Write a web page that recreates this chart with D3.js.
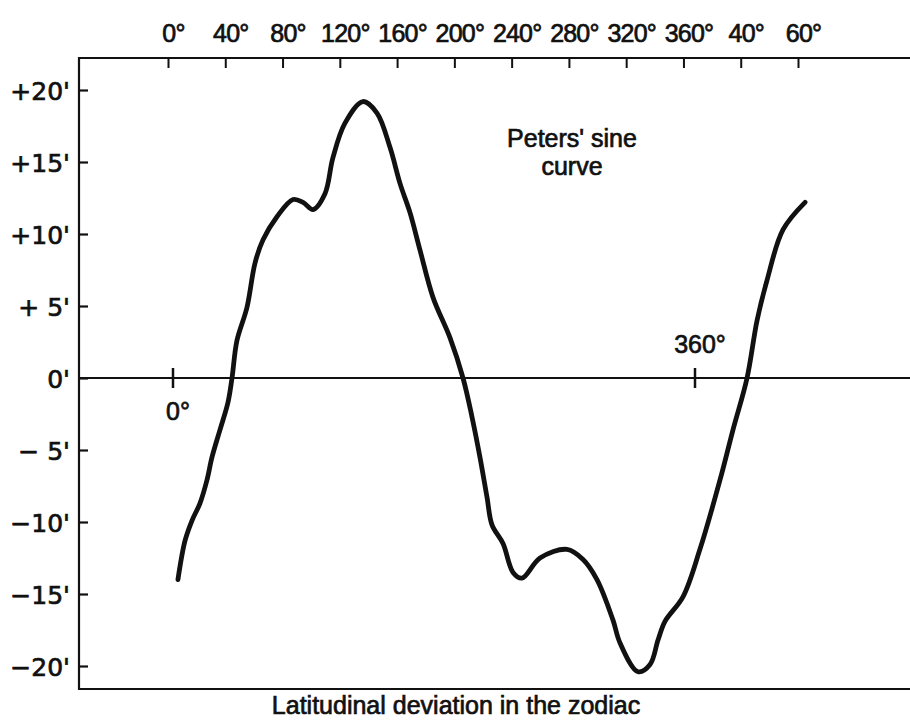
<!DOCTYPE html>
<html>
<head>
<meta charset="utf-8">
<script src="https://cdn.jsdelivr.net/npm/d3@7"></script>
<style>
  body { margin: 0; background: #fff; }
  text { font-family: "Liberation Sans", Arial, sans-serif; fill: #111; stroke: #111; stroke-width: 0.7px; }
</style>
</head>
<body>
<div id="chart"></div>
<script>
// top scale, as printed (the last two are labelled 40 and 60 in the original)
var topTickValues = [0, 40, 80, 120, 160, 200, 240, 280, 320, 360, 400, 440];
var topTickLabels = ["0", "40", "80", "120", "160", "200", "240", "280", "320", "360", "40", "60"];

// left scale, minutes of arc
var yTickValues = [20, 15, 10, 5, 0, -5, -10, -15, -20];
var yTickLabels = ["+20'", "+15'", "+10'", "+ 5'", "0'", "\u2212 5'", "\u221210'", "\u221215'", "\u221220'"];

// marks on the zero line
var zeroTickValues = [0, 360];
var zeroTickLabels = ["0", "360"];

// Peters' curve (degrees of longitude, minutes)
var longitude = [3.4, 8.3, 13.1, 18.6, 23.4, 26.9, 32.4, 37.9, 40.7, 44.1, 51.0, 56.6, 62.1, 71.7,
  82.8, 89.7, 96.6, 104.8, 110.3, 118.6, 131.0, 140.7, 149.7, 156.6, 163.4, 170.3, 179.3, 191.0,
  200.0, 206.2, 211.7, 216.6, 220.0, 227.6, 234.5, 240.7, 253.1, 271.7, 282.8, 292.4, 303.4, 308.3,
  320.7, 329.0, 334.5, 339.3, 351.7, 363.4, 377.2, 386.2, 395.9, 402.8, 409.7, 420.7, 435.9];
var deviation = [-14.0, -11.3, -9.9, -8.7, -7.1, -5.5, -3.6, -1.7, 0.0, 2.6, 4.9, 8.0, 9.6, 11.2,
  12.4, 12.2, 11.7, 12.8, 15.3, 17.7, 19.2, 18.4, 16.0, 13.5, 11.5, 8.9, 5.6, 2.8,
  0.0, -2.7, -5.5, -8.3, -10.2, -11.5, -13.5, -13.9, -12.5, -11.9, -12.6, -14.0, -16.8, -18.4,
  -20.4, -19.9, -18.2, -16.9, -15.2, -11.9, -7.1, -3.6, 0.0, 4.0, 6.8, 10.3, 12.2];

var width = 910, height = 728;
var frameLeft = 79, frameTop = 58, frameBottom = 689, frameRight = 910;

var svg = d3.select("#chart").append("svg")
    .attr("width", width)
    .attr("height", height);

var xTop = d3.scaleLinear().domain([0, 440]).range([168, 798]);
var x = d3.scaleLinear().domain([0, 360]).range([173, 695]);
var y = d3.scaleLinear().domain([-20, 20]).range([666, 90]);

// frame: top, left, bottom (open on the right)
svg.append("path")
    .attr("d", "M" + frameRight + "," + frameTop + "H" + frameLeft + "V" + frameBottom + "H" + frameRight)
    .attr("fill", "none")
    .attr("stroke", "#111")
    .attr("stroke-width", 2.2);

// top axis
var topAxis = svg.append("g")
    .attr("transform", "translate(0," + frameTop + ")")
    .call(d3.axisTop(xTop)
      .tickValues(topTickValues)
      .tickSize(-10)
      .tickPadding(16)
      .tickFormat(function(d, i) { return topTickLabels[i] + "\u00b0"; }));
topAxis.select(".domain").remove();
topAxis.selectAll("line").attr("stroke", "#111").attr("stroke-width", 2);
topAxis.selectAll("text")
    .attr("dx", 5)
    .style("font-size", "25px")
    .style("letter-spacing", "-0.8px")
    .attr("fill", "#111");

// left axis
var leftAxis = svg.append("g")
    .attr("transform", "translate(" + frameLeft + ",0)")
    .call(d3.axisLeft(y)
      .tickValues(yTickValues)
      .tickSize(-9)
      .tickPadding(9)
      .tickFormat(function(d, i) { return yTickLabels[i]; }));
leftAxis.select(".domain").remove();
leftAxis.selectAll("line").attr("stroke", "#111").attr("stroke-width", 2.2);
leftAxis.selectAll("text")
    .attr("dy", "0.38em")
    .style("font-size", "25px")
    .style("font-family", "'DejaVu Sans', sans-serif")
    .attr("fill", "#111");

// zero line
svg.append("line")
    .attr("x1", frameLeft).attr("x2", frameRight)
    .attr("y1", y(0)).attr("y2", y(0))
    .attr("stroke", "#111")
    .attr("stroke-width", 2);

svg.selectAll(".ztick")
    .data(zeroTickValues)
  .enter().append("line")
    .attr("class", "ztick")
    .attr("x1", function(d) { return x(d); })
    .attr("x2", function(d) { return x(d); })
    .attr("y1", y(0) - 10)
    .attr("y2", y(0) + 10)
    .attr("stroke", "#111")
    .attr("stroke-width", 2.5);

svg.selectAll(".zlabel")
    .data(zeroTickValues)
  .enter().append("text")
    .attr("class", "zlabel")
    .attr("x", function(d) { return x(d); })
    .attr("y", function(d, i) { return i == 0 ? y(0) + 42 : y(0) - 25; })
    .attr("dx", 5)
    .attr("text-anchor", "middle")
    .style("font-size", "25px")
    .text(function(d, i) { return zeroTickLabels[i] + "\u00b0"; });

// the curve
var points = longitude.map(function(d, i) { return [d, deviation[i]]; });

var line = d3.line()
    .x(function(d) { return x(d[0]); })
    .y(function(d) { return y(d[1]); })
    .curve(d3.curveCatmullRom.alpha(0.5));

svg.append("path")
    .datum(points)
    .attr("d", line)
    .attr("fill", "none")
    .attr("stroke", "#111")
    .attr("stroke-width", 4.8)
    .attr("stroke-linecap", "round")
    .attr("stroke-linejoin", "round");

// annotation
var note = svg.append("text")
    .attr("text-anchor", "middle")
    .style("font-size", "25px");
note.append("tspan").attr("x", 572).attr("y", 147).text("Peters' sine");
note.append("tspan").attr("x", 572).attr("y", 175).text("curve");

// x title
svg.append("text")
    .attr("x", 456)
    .attr("y", 714)
    .attr("text-anchor", "middle")
    .style("font-size", "25px")
    .text("Latitudinal deviation in the zodiac");
</script>
</body>
</html>
